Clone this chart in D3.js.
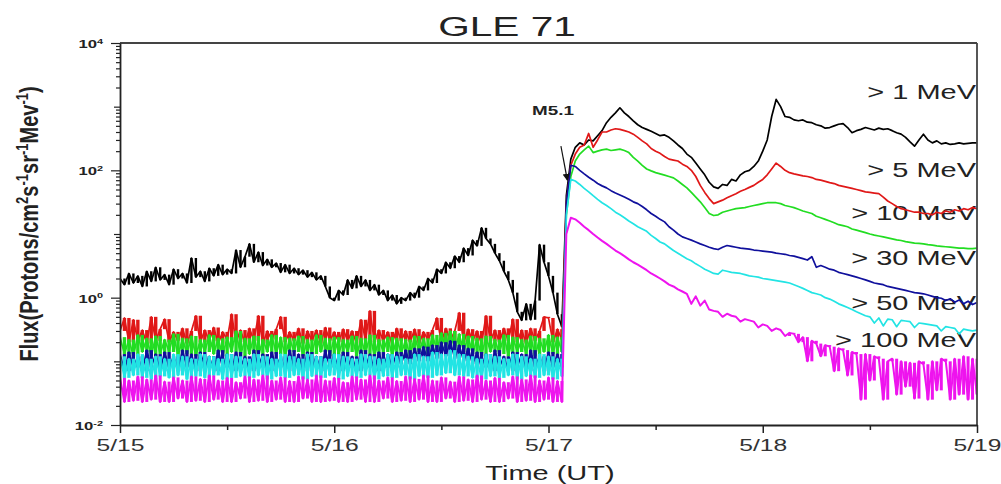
<!DOCTYPE html>
<html>
<head>
<meta charset="utf-8">
<script src="https://cdn.jsdelivr.net/npm/d3@7"></script>
<style>
  body { margin: 0; background: #fff; }
  text { font-family: "Liberation Sans", Arial, sans-serif; }
</style>
</head>
<body>
<svg id="chart" width="1001" height="484"></svg>
<script>
// GOES-style proton flux, 5/15 - 5/19, sampled every 30 min
var dayLabels = ["5/15", "5/16", "5/17", "5/18", "5/19"];
var fluxTickExp = [-2, 0, 2, 4];
var channelNames = ["> 1 MeV", "> 5 MeV", "> 10 MeV", "> 30 MeV", "> 50 MeV", "> 100 MeV"];
var channelColors = ["#000000", "#e01818", "#22dd22", "#10109c", "#22e4e4", "#ee14ee"];
var stepDays = 1 / 48;
var onsetIndex = 99;      // last quiet sample before the event
var noisyTailFrom = 150;  // >100 MeV goes back into the noise floor from here

var flux1 = [
  2.0,1.6,2.4,1.7,2.2,1.5,2.6,1.8,3.0,1.9,2.3,1.6,
  2.8,2.0,2.4,1.7,4.2,2.1,2.6,1.8,2.9,2.2,3.3,2.3,
  2.8,2.4,5.6,3.0,4.4,7.0,3.6,5.2,3.2,4.0,3.0,3.5,
  2.5,3.3,2.4,2.9,2.3,2.7,2.1,2.5,1.9,2.2,1.5,1.0,
  0.9,1.3,1.1,1.9,1.4,2.2,1.5,1.9,1.3,1.6,1.1,1.3,
  0.9,1.1,0.8,1.0,0.9,1.2,1.0,1.5,1.3,2.0,1.7,2.8,
  2.4,3.6,2.9,4.5,3.6,6.0,4.6,8.0,6.5,12.5,8.5,7.0,
  5.0,3.8,2.6,1.9,1.2,0.6,0.44,0.8,0.45,0.9,6.8,3.6,
  2.2,1.2,0.55,0.35,
  40,150,230,270,250,300,290,350,420,560,680,800,
  960,800,700,600,520,470,440,410,380,350,360,330,
  290,250,220,180,160,130,105,85,65,55,52,60,
  58,72,68,85,95,100,115,140,200,300,700,1300,
  1000,700,680,620,600,620,570,560,520,500,460,470,
  500,530,540,470,390,420,440,470,450,430,460,440,
  450,420,390,370,330,280,240,300,370,300,270,290,
  260,270,255,260,270,260,265,270,270
];

var flux5 = [
  0.30,0.48,0.20,0.45,0.21,0.31,0.19,0.50,0.21,0.32,
  0.46,0.20,0.29,0.21,0.33,0.19,0.30,0.52,0.20,0.31,
  0.21,0.34,0.19,0.29,0.22,0.55,0.20,0.31,0.19,0.33,
  0.21,0.52,0.19,0.30,0.22,0.32,0.50,0.20,0.29,0.21,
  0.33,0.19,0.30,0.21,0.31,0.19,0.34,0.21,0.29,0.20,
  0.32,0.21,0.30,0.19,0.45,0.22,0.62,0.20,0.31,0.21,
  0.29,0.19,0.33,0.21,0.30,0.20,0.32,0.19,0.29,0.22,
  0.31,0.48,0.20,0.33,0.21,0.30,0.58,0.20,0.32,0.21,
  0.30,0.19,0.52,0.21,0.31,0.20,0.33,0.21,0.46,0.20,
  0.31,0.19,0.33,0.21,0.30,0.50,0.48,0.20,0.32,0.22,
  30,120,180,230,250,380,230,300,400,400,430,450,
  440,420,400,370,330,290,260,220,200,185,165,150,
  145,140,125,115,100,80,58,45,36,30,32,34,
  37,40,43,47,50,54,58,65,72,85,105,130,
  115,100,92,88,85,82,80,77,72,70,67,64,
  62,58,56,54,52,50,48,46,45,44,43,38,
  33,30,27,25,24,23,22,22,21,21,20,22,
  21,23,22,24,23,25,24,26,25
];

var flux10 = [
  0.24,0.13,0.22,0.12,0.26,0.14,0.23,0.12,0.25,0.13,
  0.22,0.14,0.27,0.12,0.23,0.13,0.25,0.12,0.22,0.14,
  0.26,0.13,0.23,0.12,0.24,0.14,0.30,0.12,0.23,0.13,
  0.25,0.12,0.22,0.14,0.26,0.13,0.24,0.12,0.23,0.14,
  0.25,0.12,0.22,0.13,0.26,0.14,0.23,0.12,0.24,0.13,
  0.22,0.14,0.25,0.12,0.23,0.13,0.26,0.12,0.22,0.14,
  0.24,0.12,0.23,0.13,0.22,0.12,0.25,0.14,0.23,0.13,
  0.26,0.15,0.28,0.16,0.30,0.15,0.27,0.14,0.25,0.13,
  0.23,0.12,0.25,0.14,0.22,0.13,0.26,0.12,0.24,0.14,
  0.22,0.13,0.25,0.12,0.23,0.14,0.26,0.13,0.24,0.14,
  20,80,140,180,210,240,190,200,210,215,205,210,
  215,205,190,160,140,120,105,98,92,88,84,80,
  76,68,60,53,45,38,32,26,21,19.5,20,22,
  23,24,25,25.5,26,27,28,29,30,31,31,31,
  30,28,27,26,24.5,23,22,21,19,18,17,16,
  15,14,13.5,13,12,11.5,11,10.5,10,9.6,9.3,9.0,
  8.7,8.4,8.1,7.9,7.6,7.4,7.2,7.1,7.0,6.8,6.7,6.5,
  6.4,6.3,6.2,6.1,6.0,6.0,5.9,5.9,6.0
];

var flux30 = [
  0.13,0.07,0.14,0.08,0.12,0.07,0.15,0.08,0.13,0.07,
  0.14,0.08,0.12,0.07,0.15,0.08,0.13,0.07,0.14,0.08,
  0.12,0.07,0.15,0.08,0.13,0.07,0.14,0.08,0.12,0.07,
  0.15,0.08,0.13,0.07,0.14,0.08,0.12,0.07,0.15,0.08,
  0.13,0.07,0.14,0.08,0.12,0.07,0.15,0.08,0.13,0.07,
  0.14,0.08,0.12,0.07,0.15,0.08,0.13,0.07,0.14,0.08,
  0.13,0.08,0.14,0.09,0.15,0.09,0.16,0.10,0.17,0.10,
  0.18,0.11,0.20,0.12,0.21,0.11,0.18,0.10,0.16,0.09,
  0.14,0.08,0.13,0.07,0.15,0.08,0.12,0.07,0.14,0.08,
  0.13,0.07,0.15,0.08,0.12,0.07,0.14,0.08,0.13,0.08,
  30,120,115,100,88,78,70,62,57,53,48,44,
  41,38,35,32,30,27,24,21,19,17,15.5,13,
  11.5,10,9,8.5,8,7.5,7,6.6,6.2,5.9,5.7,6.2,
  6.6,6.4,6.2,6.0,5.9,5.8,5.6,5.5,5.4,5.3,5.2,5.0,
  4.9,4.8,4.6,4.5,4.3,4.1,3.9,4.4,3.0,3.2,3.0,2.8,
  2.7,2.5,2.4,2.3,2.2,2.1,2.0,1.9,1.8,1.7,1.65,1.6,
  1.5,1.45,1.4,1.35,1.3,1.25,1.2,1.18,1.15,1.1,1.05,1.0,
  0.98,0.9,0.96,0.85,0.92,0.8,0.88,0.78,0.84
];

var flux50 = [
  0.12,0.055,0.11,0.06,0.13,0.055,0.11,0.052,0.12,0.058,
  0.11,0.055,0.13,0.06,0.12,0.052,0.11,0.058,0.13,0.055,
  0.12,0.06,0.11,0.052,0.13,0.055,0.12,0.058,0.11,0.055,
  0.13,0.06,0.12,0.052,0.11,0.058,0.13,0.055,0.12,0.06,
  0.11,0.052,0.13,0.058,0.12,0.055,0.11,0.06,0.13,0.052,
  0.12,0.058,0.11,0.055,0.13,0.06,0.12,0.052,0.11,0.058,
  0.13,0.055,0.12,0.06,0.11,0.052,0.13,0.058,0.12,0.055,
  0.14,0.06,0.13,0.065,0.15,0.06,0.13,0.058,0.12,0.055,
  0.11,0.052,0.13,0.058,0.12,0.055,0.11,0.06,0.13,0.052,
  0.12,0.058,0.11,0.055,0.13,0.06,0.12,0.052,0.11,0.058,
  20,72,68,60,52,46,40,35,31,28,25,22,
  20,18,16,14.5,13,12,11,9.5,8.5,7.5,7,6.2,
  5.5,5,4.5,4.1,3.8,3.4,3.1,2.8,2.6,2.4,2.35,2.7,
  2.6,2.5,2.45,2.4,2.3,2.2,2.15,2.1,2.0,1.95,1.9,1.85,
  1.8,1.75,1.7,1.6,1.5,1.4,1.3,1.2,1.15,1.1,1.0,0.95,
  0.88,0.8,0.75,0.7,0.65,0.6,0.56,0.52,0.5,0.4,0.48,0.36,
  0.46,0.45,0.35,0.44,0.43,0.42,0.34,0.4,0.39,0.38,0.37,0.36,
  0.3,0.35,0.34,0.33,0.27,0.32,0.31,0.3,0.31
];

var flux100 = [
  0.055,0.023,0.050,0.024,0.058,0.023,0.052,0.025,0.060,0.023,
  0.048,0.023,0.056,0.026,0.050,0.023,0.058,0.024,0.053,0.023,
  0.060,0.025,0.050,0.023,0.055,0.023,0.047,0.026,0.058,0.023,
  0.052,0.024,0.060,0.023,0.050,0.025,0.056,0.023,0.049,0.023,
  0.058,0.026,0.052,0.023,0.060,0.023,0.050,0.024,0.055,0.023,
  0.047,0.023,0.058,0.025,0.052,0.023,0.060,0.023,0.050,0.026,
  0.056,0.023,0.049,0.024,0.058,0.023,0.053,0.025,0.060,0.023,
  0.050,0.023,0.056,0.026,0.048,0.023,0.058,0.024,0.052,0.023,
  0.060,0.025,0.050,0.023,0.055,0.023,0.047,0.026,0.058,0.023,
  0.052,0.024,0.060,0.023,0.050,0.025,0.056,0.023,0.049,0.023,
  10,18,17,15,13,11.5,10,8.8,7.8,7,6.2,5.5,
  5,4.5,4,3.6,3.3,3.0,2.7,2.4,2.2,2.0,1.8,1.6,
  1.5,1.35,1.25,1.15,0.8,1.05,0.75,0.9,0.65,0.62,0.6,0.5,
  0.56,0.52,0.5,0.42,0.46,0.44,0.42,0.34,0.38,0.36,0.3,0.33,
  0.31,0.25,0.28,0.27,0.2,0.24,0.1,0.21,0.19,0.12,0.18,0.17,
  0.07,0.16,0.15,0.06,0.14,0.13,0.025,0.13,0.05,0.12,0.11,0.025,
  0.1,0.11,0.03,0.1,0.04,0.095,0.026,0.1,0.09,0.025,0.1,0.035,
  0.11,0.1,0.025,0.11,0.03,0.12,0.025,0.11,0.03
];

// label placement (flux level of each text baseline) and flare note
var labelFlux = [1320, 79, 16.6, 3.3, 0.64, 0.168];
var flare = { name: "M5.1", textDay: 1.923, textFlux: 740,
              fromDay: 2.058, fromFlux: 240, toDay: 2.088, toFlux: 70 };

var stretch = 1.45;   // the source picture is stretched sideways
var svg = d3.select("#chart");

var x = d3.scaleLinear().domain([0, 4]).range([120, 977]);
var y = d3.scaleLog().domain([0.01, 10000]).range([425, 43]);

var series = [flux1, flux5, flux10, flux30, flux50, flux100];
var times = d3.range(flux1.length).map(function(i) { return i * stepDays; });

svg.append("defs").append("clipPath").attr("id", "plotclip")
  .append("rect")
  .attr("x", x(0)).attr("y", y(10000))
  .attr("width", x(4) - x(0)).attr("height", y(0.01) - y(10000));

function stretchedText(px, py, str, size, anchor, weight) {
  return svg.append("text")
    .attr("transform", "translate(" + px + "," + py + ") scale(" + stretch + ",1)")
    .attr("text-anchor", anchor)
    .style("font-size", size + "px")
    .style("font-weight", weight || "normal")
    .style("fill", "#222")
    .text(str);
}

// title
stretchedText(507, 36, "GLE 71", 28, "middle");

// channel labels (lines are drawn over them, as in the source)
channelNames.forEach(function(name, k) {
  stretchedText(x(4) - 1, y(labelFlux[k]), name, 20, "end");
});

// data
var plot = svg.append("g").attr("clip-path", "url(#plotclip)");
var quietIdx = d3.range(1, onsetIndex + 1);
var tailIdx = d3.range(noisyTailFrom, flux100.length);
series.forEach(function(s, k) {
  var g = plot.append("g");
  // noisy stretches: a vertical rule per sample spanning the jump from the
  // previous sample, so the noise reads as the dense band of the raw data
  var noisy = k === 5 ? quietIdx.concat(tailIdx) : quietIdx;
  g.selectAll("line.noise")
    .data(noisy)
    .enter().append("line")
    .attr("class", "noise")
    .attr("x1", function(i) { return x(times[i]); })
    .attr("x2", function(i) { return x(times[i]); })
    .attr("y1", function(i) { return y(s[i - 1]); })
    .attr("y2", function(i) { return y(s[i]); })
    .attr("stroke", channelColors[k])
    .attr("stroke-width", k === 0 ? 2.4 : (k === 5 ? 3.0 : 3.4));
  var line = d3.line()
    .x(function(d, i) { return x(times[i]); })
    .y(function(d) { return y(d); });
  g.append("path")
    .datum(s)
    .attr("d", line)
    .attr("fill", "none")
    .attr("stroke", channelColors[k])
    .attr("stroke-width", k === 5 ? 2 : 1.7)
    .attr("stroke-linejoin", "round");
});

// frame top + right
svg.append("line").attr("x1", x(0)).attr("x2", x(4)).attr("y1", y(10000)).attr("y2", y(10000))
  .attr("stroke", "#444").attr("stroke-width", 1.8);
svg.append("line").attr("x1", x(4)).attr("x2", x(4)).attr("y1", y(10000)).attr("y2", y(0.01))
  .attr("stroke", "#444").attr("stroke-width", 1.8);

// x axis
var xAxis = d3.axisBottom(x)
  .tickValues(d3.range(0, 4.01, 0.5))
  .tickSize(8).tickSizeOuter(0).tickPadding(6)
  .tickFormat(function(d) { return d % 1 === 0 ? dayLabels[d] : ""; });
var gx = svg.append("g").attr("transform", "translate(0," + y(0.01) + ")").call(xAxis);
gx.select(".domain").attr("stroke", "#222").attr("stroke-width", 1.8);
gx.selectAll(".tick line").attr("stroke", "#222").attr("stroke-width", 1.5)
  .attr("y2", function(d) { return d % 1 === 0 ? 8 : 5; });
gx.selectAll(".tick text")
  .attr("transform", "scale(" + stretch + ",1)")
  .style("font-size", "17px").style("font-family", "'Liberation Sans', Arial, sans-serif")
  .style("fill", "#333");

// y axis with log minor ticks
var yTickVals = [];
d3.range(-2, 4).forEach(function(e) {
  d3.range(1, 10).forEach(function(m) { yTickVals.push(+(m + "e" + e)); });
});
yTickVals.push(10000);
var yAxis = d3.axisLeft(y).tickValues(yTickVals).tickSizeOuter(0).tickFormat("");
var gy = svg.append("g").attr("transform", "translate(" + x(0) + ",0)").call(yAxis);
gy.select(".domain").attr("stroke", "#222").attr("stroke-width", 1.8);
gy.selectAll(".tick line").attr("stroke", "#222").attr("stroke-width", 1.2)
  .attr("x2", function(d) {
    var e = Math.round(Math.log10(d));
    if (Math.abs(Math.log10(d) - e) > 1e-6) return -4;
    return fluxTickExp.indexOf(e) >= 0 ? -9 : -6;
  });
gy.selectAll(".tick").each(function(d) {
  var e = Math.round(Math.log10(d));
  if (Math.abs(Math.log10(d) - e) > 1e-6 || fluxTickExp.indexOf(e) < 0) return;
  var t = d3.select(this).select("text")
    .attr("x", 0).attr("dy", "0.38em")
    .attr("transform", "translate(-17,0) scale(" + stretch + ",1)")
    .style("font-size", "11.5px").style("font-weight", "bold")
    .style("font-family", "'Liberation Sans', Arial, sans-serif")
    .style("fill", "#222").text("10");
  t.append("tspan").attr("dy", "-0.55em").style("font-size", "7.5px").text(e);
});

// axis titles
stretchedText(550, 480, "Time (UT)", 20, "middle");

var yl = svg.append("text")
  .attr("transform", "translate(38,224) rotate(-90) scale(1,1.3)")
  .attr("text-anchor", "middle")
  .style("font-size", "20px").style("font-weight", "bold").style("fill", "#222");
[["Flux(Protons/cm", 0], ["2", 1], ["s", 0], ["-1", 1], ["sr", 0], ["-1", 1], ["Mev", 0], ["-1", 1], [")", 0]]
  .forEach(function(p, i, arr) {
    var prevSup = i > 0 && arr[i - 1][1] === 1;
    var ts = yl.append("tspan").text(p[0]);
    if (p[1] === 1) ts.attr("dy", -8).style("font-size", "13px");
    else if (prevSup) ts.attr("dy", 8);
  });

// flare annotation
stretchedText(x(flare.textDay), y(flare.textFlux), flare.name, 13, "start", "bold");
svg.append("defs").append("marker")
  .attr("id", "arrowhead").attr("viewBox", "0 0 10 10")
  .attr("refX", 9).attr("refY", 5)
  .attr("markerWidth", 6).attr("markerHeight", 7)
  .attr("orient", "auto")
  .append("path").attr("d", "M0,0 L10,5 L0,10 Z").attr("fill", "#111");
svg.append("line")
  .attr("x1", x(flare.fromDay)).attr("y1", y(flare.fromFlux))
  .attr("x2", x(flare.toDay)).attr("y2", y(flare.toFlux))
  .attr("stroke", "#111").attr("stroke-width", 1.2)
  .attr("marker-end", "url(#arrowhead)");
</script>
</body>
</html>
